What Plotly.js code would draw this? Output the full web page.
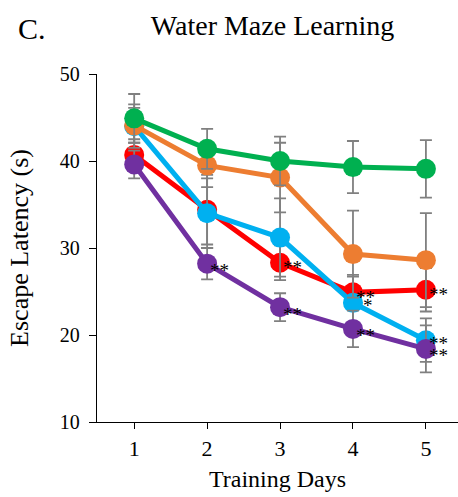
<!DOCTYPE html>
<html><head><meta charset="utf-8">
<script src="https://cdn.plot.ly/plotly-3.0.1.min.js"></script>
<style>html,body{margin:0;padding:0;background:#fff}#c{width:458px;height:497px}</style>
</head><body><div id="c"></div>
<script>
const days = [1, 2, 3, 4, 5];
const tickLabels = ["1", "2", "3", "4", "5"];
const redY = [40.7, 34.4, 28.3, 24.9, 25.2];
const redErr = [1.8, 4.0, 2.0, 2.0, 2.5];
const redStars = ["", "", "**", "**", "**"];
const cyanY = [44.0, 34.0, 31.2, 23.7, 19.4];
const cyanErr = [2.5, 4.0, 4.5, 3.0, 2.5];
const cyanStars = ["", "", "", "*", "**"];
const orangeY = [44.1, 39.5, 38.1, 29.3, 28.6];
const orangeErr = [2.0, 2.5, 4.0, 5.0, 5.4];
const orangeStars = ["", "", "", "", ""];
const greenY = [44.9, 41.4, 40.0, 39.3, 39.1];
const greenErr = [2.8, 2.3, 2.8, 3.0, 3.3];
const greenStars = ["", "", "", "", ""];
const purpleY = [39.6, 28.2, 23.2, 20.7, 18.4];
const purpleErr = [1.6, 1.8, 1.6, 2.1, 2.7];
const purpleStars = ["", "**", "**", "**", "**"];

const series = [
  {y: redY, e: redErr, s: redStars, c: "#FF0000", ys: 0},
  {y: cyanY, e: cyanErr, s: cyanStars, c: "#00B0F0", ys: 2},
  {y: orangeY, e: orangeErr, s: orangeStars, c: "#ED7D31", ys: 0},
  {y: greenY, e: greenErr, s: greenStars, c: "#00B050", ys: 0},
  {y: purpleY, e: purpleErr, s: purpleStars, c: "#7030A0", ys: -2}
];
const traces = series.map(s => ({
  x: days, y: s.y, type: "scatter", mode: "lines+markers",
  line: {color: s.c, width: 5},
  marker: {color: s.c, size: 20},
  error_y: {type: "data", array: s.e, visible: true, color: "#808080", thickness: 1.8, width: 6},
  showlegend: false, hoverinfo: "none"
}));
const annotations = [];
series.forEach(s => {
  s.s.forEach((t, i) => {
    if (t) annotations.push({x: days[i], y: s.y[i], xref: "x", yref: "y", text: t, showarrow: false,
      xanchor: "left", yanchor: "middle", xshift: t === "*" ? 8 : 1, yshift: -5 + s.ys,
      font: {family: "Liberation Serif", size: 19, color: "#000"}});
  });
});
annotations.push({xref: "paper", yref: "paper", x: -0.225, y: 1.13, text: "C.", showarrow: false, xanchor: "left", yanchor: "middle",
  font: {family: "Liberation Serif", size: 30, color: "#000"}});
const layout = {
  width: 458, height: 497,
  margin: {l: 97, r: 0, t: 74, b: 75},
  paper_bgcolor: "#fff", plot_bgcolor: "#fff",
  font: {family: "Liberation Serif", color: "#000"},
  title: {text: "Water Maze Learning", x: 0.595, xanchor: "center", y: 0.95, yanchor: "middle", font: {family: "Liberation Serif", size: 28, color: "#000"}},
  xaxis: {range: [0.49, 5.44], tickvals: days, ticktext: tickLabels, ticks: "outside", ticklen: 6, tickcolor: "#000",
    showgrid: false, zeroline: false, showline: true, linecolor: "#000", linewidth: 1.2,
    tickfont: {size: 22, family: "Liberation Serif"},
    title: {text: "Training Days", font: {size: 24, family: "Liberation Serif"}, standoff: 10}},
  yaxis: {range: [10, 50], tickvals: [10, 20, 30, 40, 50], ticks: "outside", ticklen: 7, tickcolor: "#000",
    showgrid: false, zeroline: false, showline: true, linecolor: "#000", linewidth: 1.2,
    tickfont: {size: 20, family: "Liberation Serif"}, ticklabelstandoff: 5,
    title: {text: "Escape Latency (s)", font: {size: 26, family: "Liberation Serif"}, standoff: 23}},
  annotations: annotations
};
Plotly.newPlot("c", traces, layout, {displayModeBar: false, staticPlot: true});
</script></body></html>
